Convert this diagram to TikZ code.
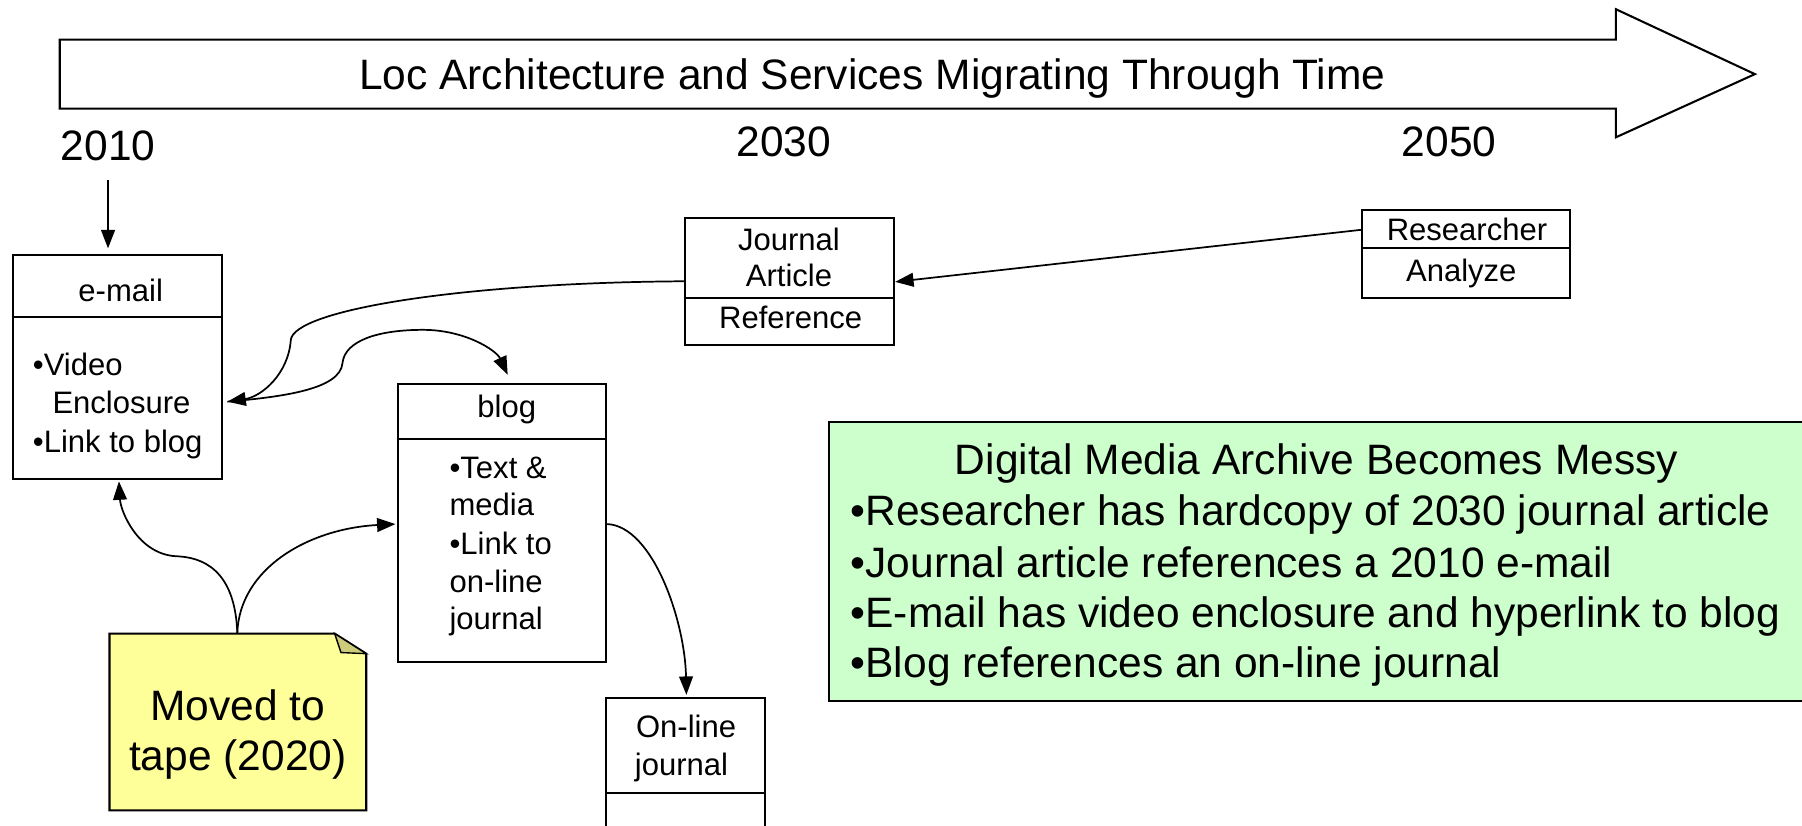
\documentclass[tikz,border=0pt]{standalone}
\usepackage{fontspec}
\setmainfont{Liberation Sans}
\usetikzlibrary{arrows.meta,calc}
\definecolor{notefill}{HTML}{FFFF99}
\definecolor{notefold}{HTML}{CCCC7A}
\definecolor{greenfill}{HTML}{CCFFCC}
\begin{document}
\begin{tikzpicture}[x=1pt,y=-1pt,
  box/.style={draw, line width=1.8pt, fill=white, inner sep=0pt},
  divline/.style={line width=1.8pt},
  tA/.style={font=\fontsize{27}{32}\selectfont, inner sep=0pt, text height=19.3pt, text depth=0pt},
  tB/.style={font=\fontsize{37}{44}\selectfont, inner sep=0pt, text height=26.5pt, text depth=0pt},
  conn/.style={line width=1.5pt, -{Triangle[length=16pt,width=12pt]}},
]
\useasboundingbox (0,0) rectangle (1568,718);

% timeline arrow
\draw[line width=1.8pt, fill=white] (52,34.5) -- (1406,34.5) -- (1406,8) -- (1527,64.5) -- (1406,119.5) -- (1406,94.5) -- (52,94.5) -- cycle;
\node[tB] (title) at (759,65) {Loc Architecture and Services Migrating Through Time};

% years
\node[tB] (y2010) at (94,126) {2010};
\node[tB] (y2030) at (682,123) {2030};
\node[tB] (y2050) at (1261,123) {2050};

% e-mail box
\node[box, minimum width=182pt, minimum height=195pt] (email) at (102,319.5) {};
\draw[divline] ($(email.north west)+(0,55)$) -- ($(email.north east)+(0,55)$);
\node[tA] (emailhead) at (105,252.5) {e-mail};
\node[tA, anchor=west] (email1) at (28.5,317) {•Video};
\node[tA, anchor=west] (email2) at (45.5,350) {Enclosure};
\node[tA, anchor=west] (email3) at (28.5,384) {•Link to blog};

% journal article box
\node[box, minimum width=182pt, minimum height=110.5pt] (journal) at (687,245.25) {};
\draw[divline] ($(journal.north west)+(0,70)$) -- ($(journal.north east)+(0,70)$);
\node[tA] (journal1) at (686.5,208) {Journal};
\node[tA] (journal2) at (686.5,240) {Article};
\node[tA] (journal3) at (688,276) {Reference};

% researcher box
\node[box, minimum width=181pt, minimum height=76pt] (researcher) at (1275.5,221) {};
\draw[divline] ($(researcher.north west)+(0,34)$) -- ($(researcher.north east)+(0,34)$);
\node[tA] (res1) at (1276.5,200) {Researcher};
\node[tA] (res2) at (1271.5,235) {Analyze};

% blog box
\node[box, minimum width=181.5pt, minimum height=242pt] (blog) at (436.75,455) {};
\draw[divline] ($(blog.north west)+(0,48.5)$) -- ($(blog.north east)+(0,48.5)$);
\node[tA] (bloghead) at (441,354) {blog};
\node[tA, anchor=west] (blog1) at (391,407) {•Text \&};
\node[tA, anchor=west] (blog2) at (391,439) {media};
\node[tA, anchor=west] (blog3) at (391,473) {•Link to};
\node[tA, anchor=west] (blog4) at (391,506) {on-line};
\node[tA, anchor=west] (blog5) at (391,538) {journal};

% on-line journal box
\node[box, minimum width=138.5pt, minimum height=132.5pt] (online) at (596.75,673.75) {};
\draw[divline] ($(online.north west)+(0,83.5)$) -- ($(online.north east)+(0,83.5)$);
\node[tA] (online1) at (597,632) {On-line};
\node[tA] (online2) at (593,665) {journal};

% note
\node[inner sep=0pt, minimum width=223pt, minimum height=153.5pt] (note) at (207,628.25) {};
\draw[line width=1.8pt, fill=notefill] (note.south west) -- (note.north west) -- ($(note.north east)+(-27.5,0)$) -- ($(note.north east)+(0,17.5)$) -- (note.south east) -- cycle;
\draw[line width=1.2pt, fill=notefold] ($(note.north east)+(-27.5,0)$) -- ($(note.north east)+(-22,16.5)$) -- ($(note.north east)+(0,17.5)$) -- cycle;
\node[tB] (note1) at (207,613.5) {Moved to};
\node[tB] (note2) at (207,657.5) {tape (2020)};

% summary box
\node[draw, line width=1.8pt, fill=greenfill, minimum width=860pt, minimum height=243pt, inner sep=0pt] (summary) at (1151,488.5) {};
\node[tB] (sumtitle) at (1145.5,399.5) {Digital Media Archive Becomes Messy};
\node[tB, anchor=west] (sum1) at (740,444) {•Researcher has hardcopy of 2030 journal article};
\node[tB, anchor=west] (sum2) at (740,489) {•Journal article references a 2010 e-mail};
\node[tB, anchor=west] (sum3) at (740,532.5) {•E-mail has video enclosure and hyperlink to blog};
\node[tB, anchor=west] (sum4) at (740,576) {•Blog references an on-line journal};

% connectors
\draw[conn] ($(y2010.south)+(0,17)$) -- ($(y2010.south |- email.north)+(0,-5)$);
\draw[conn] ($(researcher.west)+(0,-21)$) -- (journal.east);
\draw[conn] ($(journal.west)+(0,-0.5)$) .. controls (400,246) and (255,270) .. (253,296) .. controls (251,325) and (228,345) .. ($(email.east)+(4,30)$);
\draw[conn] ($(email.east)+(4,30)$) .. controls (250,345) and (296,338) .. (298,316) .. controls (300,296) and (330,287) .. (368,287) .. controls (405,287) and (432,305) .. ($(blog.north)+(5,-7)$);
\draw[conn] ($(note.north)+(-0.5,0)$) .. controls (205,505) and (185,485) .. (153,484) .. controls (120,482) and (105,445) .. ($(email.south)+(1.5,1)$);
\draw[conn] ($(note.north)+(-0.5,0)$) .. controls (208,495) and (268,460) .. ($(blog.west)+(-1,1)$);
\draw[conn] ($(blog.east)+(0,1)$) .. controls (568,458) and (596,540) .. ($(online.north)+(0.5,-2)$);
\end{tikzpicture}
\end{document}
